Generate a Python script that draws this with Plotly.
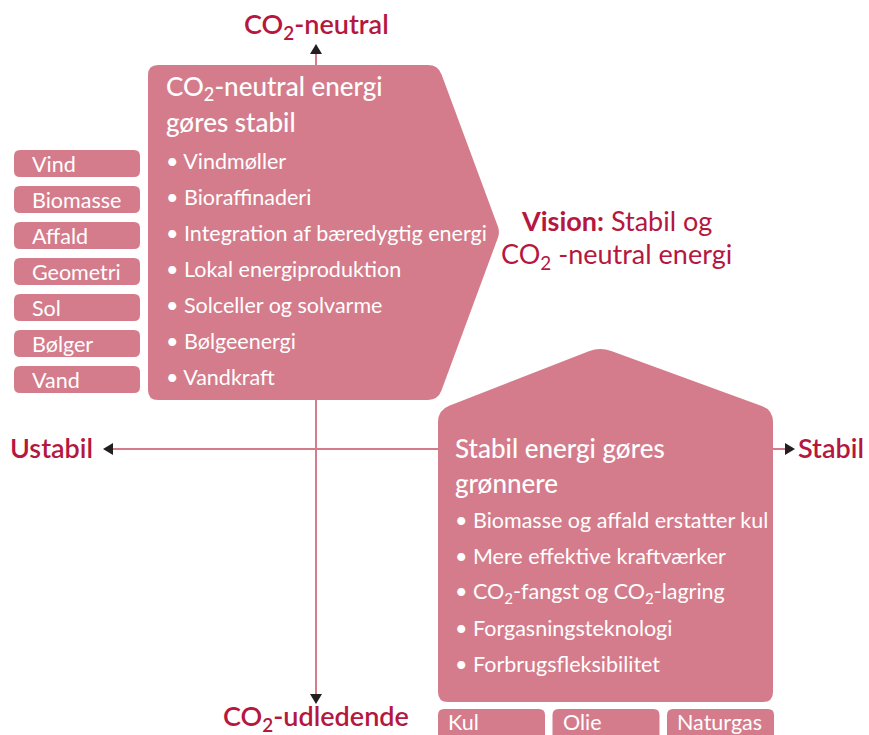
import plotly.graph_objects as go
import numpy as np

# ---- data (texts) ----
axis_top = "CO<sub>2</sub>-neutral"
axis_bottom = "CO<sub>2</sub>-udledende"
axis_left = "Ustabil"
axis_right = "Stabil"

sources_renewable = ["Vind", "Biomasse", "Affald", "Geometri", "Sol", "Bølger", "Vand"]
upper_title = ["CO<sub>2</sub>-neutral energi", "gøres stabil"]
upper_items = ["Vindmøller", "Bioraffinaderi", "Integration af bæredygtig energi",
               "Lokal energiproduktion", "Solceller og solvarme", "Bølgeenergi", "Vandkraft"]

vision_lines = ["<b>Vision:</b> Stabil og", "CO<sub>2</sub> -neutral energi"]

lower_title = ["Stabil energi gøres", "grønnere"]
lower_items = ["Biomasse og affald erstatter kul", "Mere effektive kraftværker",
               "CO<sub>2</sub>-fangst og CO<sub>2</sub>-lagring", "Forgasningsteknologi",
               "Forbrugsfleksibilitet"]
sources_fossil = ["Kul", "Olie", "Naturgas"]

# ---- styles ----
PINK = "#d47c8b"
RED = "#b5173e"
DARK = "#231f20"
FONT = "Lato"

def rounded(pts, r):
    pts = [np.array(p, float) for p in pts]
    n = len(pts)
    rs = r if isinstance(r, (list, tuple)) else [r] * n
    segs = []
    for i in range(n):
        p, v, q = pts[i - 1], pts[i], pts[(i + 1) % n]
        d1 = (p - v) / np.linalg.norm(p - v)
        d2 = (q - v) / np.linalg.norm(q - v)
        a = v + d1 * rs[i]
        b = v + d2 * rs[i]
        segs.append((a, v, b))
    f = lambda P: f"{P[0]:.2f},{P[1]:.2f}"
    path = f"M {f(segs[0][2])}"
    for i in list(range(1, n)) + [0]:
        a, v, b = segs[i]
        path += f" L {f(a)} Q {f(v)} {f(b)}"
    return path + " Z"

def rrect(x0, y0, x1, y1, r):
    return rounded([(x0, y0), (x1, y0), (x1, y1), (x0, y1)], r)

shapes = []
annotations = []

def add_text(x, y, text, size, color="white", xanchor="left", weight=None):
    font = dict(family=FONT, size=size, color=color)
    if weight:
        font["weight"] = weight
    annotations.append(dict(x=x, y=y, text=text, showarrow=False, xanchor=xanchor,
                            yanchor="middle", font=font, xref="x", yref="y"))

# axes lines
shapes.append(dict(type="line", x0=316, y0=52, x1=316, y1=697, line=dict(color=PINK, width=2), layer="below"))
shapes.append(dict(type="line", x0=110, y0=449, x1=790, y1=449, line=dict(color=PINK, width=2), layer="below"))

# arrowheads
for pts in [[(316, 44), (322, 54), (310, 54)],
            [(316, 704), (310, 694), (322, 694)],
            [(103, 449), (113, 443), (113, 455)],
            [(795, 449), (785, 443), (785, 455)]]:
    p = "M " + " L ".join(f"{x},{y}" for x, y in pts) + " Z"
    shapes.append(dict(type="path", path=p, fillcolor=DARK, line=dict(width=0)))

# upper shape
shapes.append(dict(type="path",
                   path=rounded([(148, 65), (438, 65), (500, 232), (438, 400), (148, 400)], [10, 10, 6, 10, 10]),
                   fillcolor=PINK, line=dict(width=0)))
# lower house shape
shapes.append(dict(type="path",
                   path=rounded([(438, 410), (600, 347), (773, 410), (773, 702), (438, 702)], [12, 12, 12, 10, 10]),
                   fillcolor=PINK, line=dict(width=0)))

# renewable source boxes
for i, s in enumerate(sources_renewable):
    y0 = 150 + 36 * i
    shapes.append(dict(type="path", path=rrect(14, y0, 140, y0 + 27, 6), fillcolor=PINK, line=dict(width=0)))
    add_text(30, y0 + 14, s, 21.5)

# fossil source boxes
for i, s in enumerate(sources_fossil):
    x0 = 438 + 114.5 * i
    shapes.append(dict(type="path", path=rrect(x0, 709, x0 + 107, 740, 6), fillcolor=PINK, line=dict(width=0)))
    add_text(x0 + 8, 722, s, 21.5)

# upper texts
for i, t in enumerate(upper_title):
    add_text(164, 87 + 35 * i, t, 26, weight=500)
for i, t in enumerate(upper_items):
    add_text(164, 161 + 36 * i, "• " + t, 21.5)

# lower texts
for i, t in enumerate(lower_title):
    add_text(453, 448 + 35 * i, t, 26, weight=500)
for i, t in enumerate(lower_items):
    add_text(453, 520 + 36 * i, "• " + t, 21.5)

# vision
for i, t in enumerate(vision_lines):
    add_text(616, 220 + 35 * i, t, 27, color=RED, xanchor="center")

# axis labels
add_text(316, 25, axis_top, 27, color=RED, xanchor="center", weight=600)
add_text(316, 717, axis_bottom, 27, color=RED, xanchor="center", weight=600)
add_text(8, 447, axis_left, 27, color=RED, weight=600)
add_text(796, 447, axis_right, 27, color=RED, weight=600)

fig = go.Figure()
fig.add_trace(go.Scatter(x=[0, 869], y=[0, 735], mode="markers", marker=dict(opacity=0), hoverinfo="skip", showlegend=False))
fig.update_layout(
    width=869, height=735, margin=dict(l=0, r=0, t=0, b=0),
    paper_bgcolor="white", plot_bgcolor="white",
    xaxis=dict(range=[0, 869], visible=False, fixedrange=True),
    yaxis=dict(range=[735, 0], visible=False, fixedrange=True),
    shapes=shapes, annotations=annotations, showlegend=False,
)
fig.write_html("out.html", config={"displayModeBar": False},
               post_script="document.body.style.margin='0';document.body.style.overflow='hidden';")
